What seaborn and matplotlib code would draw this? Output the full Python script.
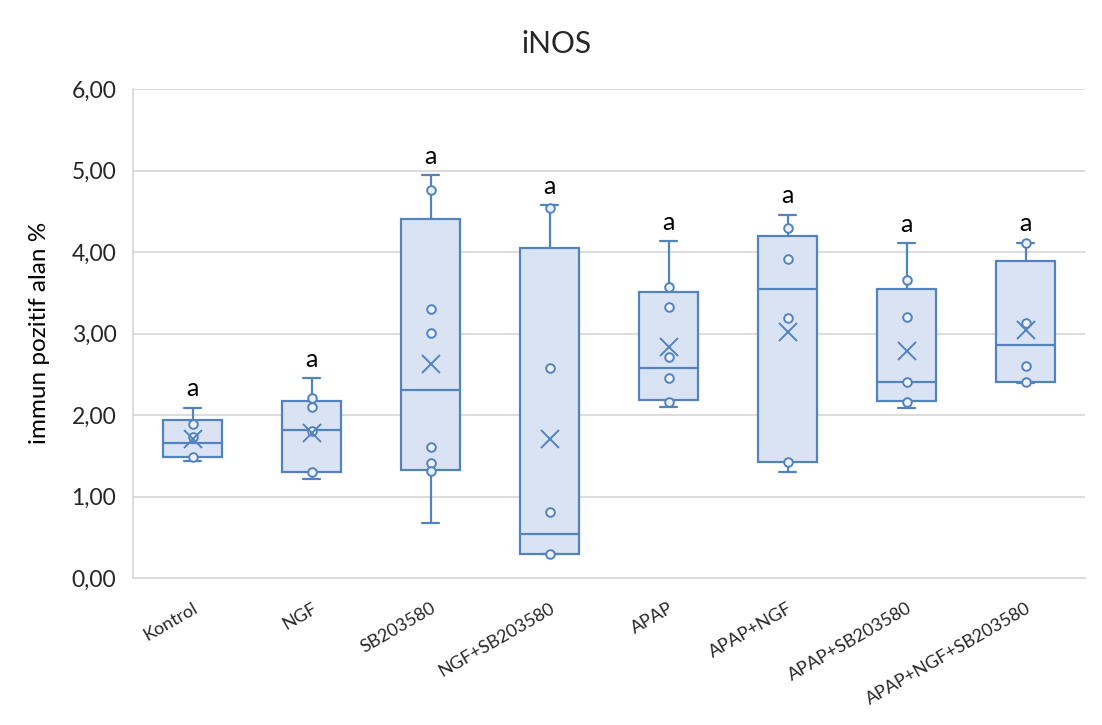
import numpy as np
import pandas as pd
import matplotlib
matplotlib.use("Agg")
import matplotlib.pyplot as plt
import seaborn as sns
from matplotlib.ticker import FuncFormatter

# Treatment groups
groups = ["Kontrol", "NGF", "SB203580", "NGF+SB203580", "APAP",
          "APAP+NGF", "APAP+SB203580", "APAP+NGF+SB203580"]

# Five-number summaries per group (immun pozitif alan %)
whisker_low = [1.44, 1.21, 0.67, 0.29, 2.10, 1.30, 2.09, 2.39]
q1 = [1.49, 1.305, 1.325, 0.294, 2.184, 1.427, 2.17, 2.41]
median = [1.66, 1.81, 2.31, 0.544, 2.58, 3.546, 2.41, 2.86]
q3 = [1.935, 2.175, 4.40, 4.045, 3.51, 4.20, 3.54, 3.89]
whisker_high = [2.09, 2.45, 4.94, 4.577, 4.13, 4.46, 4.106, 4.115]
means = [1.71, 1.775, 2.62, 1.705, 2.83, 3.02, 2.78, 3.04]

# Inner data points per group
pts_kontrol = [1.886, 1.73, 1.49]
pts_ngf = [2.205, 2.10, 1.80, 1.305]
pts_sb = [4.76, 3.30, 3.01, 1.61, 1.415, 1.31]
pts_ngf_sb = [4.545, 2.58, 0.806, 0.294]
pts_apap = [3.575, 3.33, 2.715, 2.45, 2.165]
pts_apap_ngf = [4.29, 3.91, 3.19, 1.427]
pts_apap_sb = [3.656, 3.20, 2.40, 2.165]
pts_apap_ngf_sb = [4.115, 3.125, 2.60, 2.41]

# Significance letters
letters = ["a"] * 8

y_ticks = [0, 1, 2, 3, 4, 5, 6]

edge = "#5283BE"
fill = "#DAE3F3"
grid = "#D9D9D9"

sns.set_theme(style="white")
plt.rcParams["font.family"] = ["Lato", "DejaVu Sans"]

fig = plt.figure(figsize=(11.02, 7.25), dpi=100)
ax = fig.add_axes([133 / 1102, 1 - 578 / 725, (1085 - 133) / 1102, (578 - 89) / 725])

# Box bodies from the five-number summaries
box_df = pd.DataFrame({
    "group": np.repeat(groups, 5),
    "value": np.column_stack([whisker_low, q1, median, q3, whisker_high]).ravel(),
})
sns.boxplot(data=box_df, x="group", y="value", order=groups, whis=(0, 100),
            width=0.5, color=fill, saturation=1, linecolor=edge, linewidth=1.6,
            showfliers=False, ax=ax, zorder=2)

# Shorten whisker caps
for line in ax.lines:
    xd = np.asarray(line.get_xdata(), dtype=float)
    yd = np.asarray(line.get_ydata(), dtype=float)
    if len(xd) == 2 and yd[0] == yd[1] and (yd[0] in whisker_low or yd[0] in whisker_high):
        c = xd.mean()
        w = abs(xd[1] - xd[0])
        if w < 0.45:
            line.set_xdata([c - 0.075, c + 0.075])

# Inner points
all_pts = [pts_kontrol, pts_ngf, pts_sb, pts_ngf_sb, pts_apap,
           pts_apap_ngf, pts_apap_sb, pts_apap_ngf_sb]
pts_df = pd.DataFrame({
    "group": np.concatenate([[g] * len(p) for g, p in zip(groups, all_pts)]),
    "value": np.concatenate(all_pts),
})
sns.stripplot(data=pts_df, x="group", y="value", order=groups, jitter=False,
              marker="o", size=6.2, color="#EEF2FA", edgecolor=edge, linewidth=1.4,
              ax=ax, zorder=4)

# Mean markers
mean_df = pd.DataFrame({"group": groups, "value": means})
sns.pointplot(data=mean_df, x="group", y="value", order=groups, linestyle="none",
              marker="x", markersize=13, markeredgewidth=1.4, color=edge,
              errorbar=None, ax=ax, zorder=5)

for i, (g, hi, lab) in enumerate(zip(groups, whisker_high, letters)):
    ax.text(i, hi + 0.14, lab, ha="center", va="baseline", fontsize=18, color="black")

ax.set_ylim(0, 6)
ax.set_xlim(-0.5, len(groups) - 0.5)
ax.set_yticks(y_ticks)
ax.yaxis.set_major_formatter(FuncFormatter(lambda v, p: f"{v:.2f}".replace(".", ",")))
ax.grid(axis="y", color=grid, linewidth=1.3, zorder=0)
ax.set_axisbelow(True)
ax.set_xlabel("")
ax.set_ylabel("")
for s in ["top", "right"]:
    ax.spines[s].set_visible(False)
for s in ["left", "bottom"]:
    ax.spines[s].set_color(grid)
    ax.spines[s].set_linewidth(1.3)

ax.tick_params(axis="y", length=0, pad=12, labelsize=16.5, labelcolor="#262626")
ax.tick_params(axis="x", length=0, pad=16, labelsize=13, labelcolor="#262626")
ax.set_xticks(range(len(groups)))
ax.set_xticklabels(groups, rotation=30, ha="right", va="top", rotation_mode="anchor")

fig.text(556 / 1102, 1 - 44 / 725, "iNOS", ha="center", va="center", fontsize=21.5,
         color="#262626")
fig.text(40 / 1102, 1 - 333 / 725, "immun pozitif alan %", ha="center", va="center",
         rotation=90, fontsize=17.5, color="black")

fig.savefig("out.png", dpi=100, facecolor="white")
